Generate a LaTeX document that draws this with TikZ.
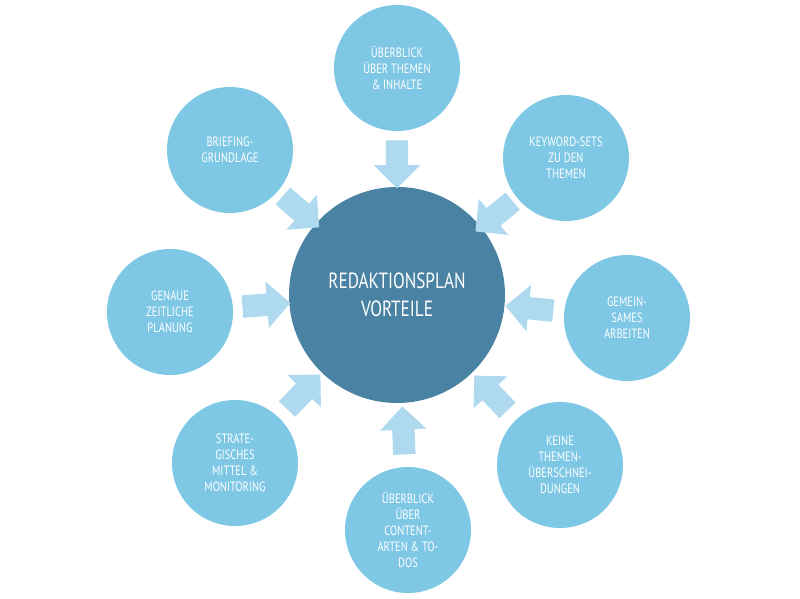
\documentclass[tikz,border=0pt]{standalone}
\usepackage{fontspec}
\setmainfont{PT Sans}[FakeStretch=0.78]
\usetikzlibrary{shapes.arrows,calc}
\definecolor{outerblue}{HTML}{7EC8E6}
\definecolor{coreblue}{HTML}{4A82A4}
\definecolor{arrowblue}{HTML}{AED9EE}
\tikzset{
  outer/.style={circle, fill=outerblue, minimum size=126pt, inner sep=0pt,
    text=white, align=center, font=\fontsize{13.5}{16}\selectfont},
  core/.style={circle, fill=coreblue, minimum size=216pt, inner sep=0pt,
    text=white, align=center, font=\fontsize{22}{28}\selectfont},
  blockarrow/.style={single arrow, fill=arrowblue, minimum height=48pt,
    inner xsep=0pt, inner ysep=11pt, text height=0pt, text depth=0pt,
    single arrow head extend=12pt}
}
\begin{document}
\begin{tikzpicture}[x=1pt,y=-1pt]
\useasboundingbox (0,0) rectangle (800,599);
\node[core] (plan) at (397,295) {REDAKTIONSPLAN\\VORTEILE};
\foreach \name/\px/\py/\txt in {
  top/397/68/{ÜBERBLICK\\ÜBER THEMEN\\\& INHALTE},
  keyword/566/158/{KEYWORD-SETS\\ZU DEN\\THEMEN},
  gemein/627/318/{GEMEIN-\\SAMES\\ARBEITEN},
  keine/560/465/{KEINE\\THEMEN-\\ÜBERSCHNEI-\\DUNGEN},
  content/408/530/{ÜBERBLICK\\ÜBER\\CONTENT-\\ARTEN \& TO-\\DOS},
  strat/235/463/{STRATE-\\GISCHES\\MITTEL \&\\MONITORING},
  genau/170/312/{GENAUE\\ZEITLICHE\\PLANUNG},
  briefing/230/150/{BRIEFING-\\GRUNDLAGE}}{
  \node[outer] (\name) at (\px,\py) {\txt};
  % arrow pointing from the outer circle to the core
  \path let \p1 = ($(plan)-(\name)$), \n1 = {atan2(\y1,\x1)} in
    node[blockarrow, rotate=\n1] (arr-\name) at ($(plan)!0.6!(\name)$) {};
}
\end{tikzpicture}
\end{document}
